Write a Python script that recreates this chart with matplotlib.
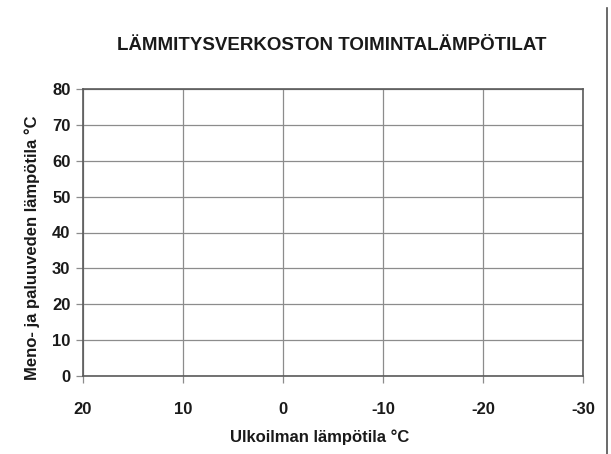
import matplotlib
matplotlib.use("Agg")
import matplotlib.pyplot as plt
from matplotlib.lines import Line2D

title = "LÄMMITYSVERKOSTON TOIMINTALÄMPÖTILAT"
xlabel = "Ulkoilman lämpötila °C"
ylabel = "Meno- ja paluuveden lämpötila °C"
x_ticks = [20, 10, 0, -10, -20, -30]
y_ticks = [0, 10, 20, 30, 40, 50, 60, 70, 80]

plt.rcParams['font.family'] = ['Liberation Sans', 'DejaVu Sans']
W, H = 611, 454
fig = plt.figure(figsize=(W / 100, H / 100), dpi=100)
ax = fig.add_axes([83 / W, 1 - 376 / H, 500 / W, 287 / H])

ax.set_xlim(20, -30)
ax.set_ylim(0, 80)
ax.set_xticks(x_ticks)
ax.set_yticks(y_ticks)
ax.set_xticklabels([str(v) for v in x_ticks], fontsize=12, fontweight='bold', color='#1a1a1a')
ax.set_yticklabels([str(v) for v in y_ticks], fontsize=12, fontweight='bold', color='#1a1a1a')
ax.grid(True, color='#8c8c8c', linewidth=0.9)
ax.set_axisbelow(True)
for s in ax.spines.values():
    s.set_color('#5a5a5a')
    s.set_linewidth(1.2)
ax.tick_params(axis='both', direction='out', length=5, width=0.9, color='#8c8c8c')
ax.tick_params(axis='x', pad=14)
ax.tick_params(axis='y', pad=4)

fig.text(332 / W, 1 - 45 / H, title, ha='center', va='center', fontsize=13.5, fontweight='bold', color='#1a1a1a')
fig.text(320 / W, 1 - 437 / H, xlabel, ha='center', va='center', fontsize=12, fontweight='bold', color='#1a1a1a')
fig.text(32 / W, 1 - 248 / H, ylabel, ha='center', va='center', rotation=90, fontsize=12, fontweight='bold', color='#1a1a1a')

fig.add_artist(Line2D([607 / W, 607 / W], [0, 1 - 8 / H], transform=fig.transFigure, color='#505050', linewidth=1.2))

fig.savefig("out.png", dpi=100)
